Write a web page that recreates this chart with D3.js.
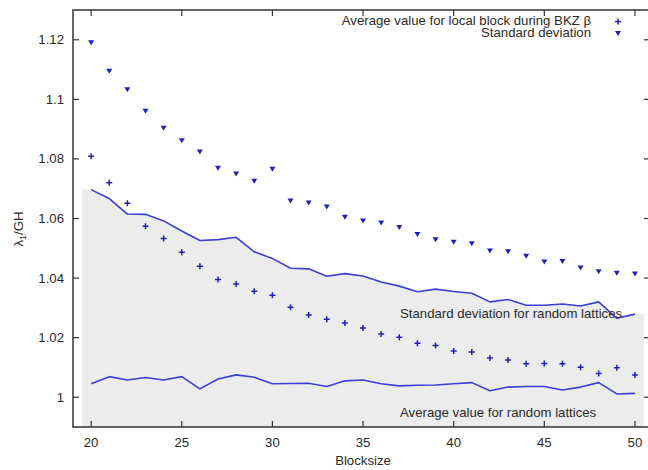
<!DOCTYPE html>
<html>
<head>
<meta charset="utf-8">
<script src="https://cdn.jsdelivr.net/npm/d3@7"></script>
<style>
body { margin: 0; background: #fff; }
text { font-family: "Liberation Sans", Arial, sans-serif; fill: #2a2a2a; }
</style>
</head>
<body>
<script>
// blocksizes 20..50
var blocksize = d3.range(20, 51);

// average value for local block during BKZ (plus markers)
var bkzAvg = [1.0809, 1.0720, 1.0651, 1.0574, 1.0533, 1.0487, 1.0440, 1.0395, 1.0380, 1.0356,
              1.0342, 1.0302, 1.0276, 1.0262, 1.0249, 1.0232, 1.0212, 1.0201, 1.0181, 1.0174,
              1.0155, 1.0152, 1.0132, 1.0125, 1.0112, 1.0113, 1.0112, 1.0101, 1.0080, 1.0099,
              1.0075];

// standard deviation (triangle markers)
var bkzStd = [1.1190, 1.1094, 1.1032, 1.0960, 1.0903, 1.0861, 1.0823, 1.0769, 1.0749, 1.0725,
              1.0765, 1.0659, 1.0652, 1.0639, 1.0604, 1.0592, 1.0585, 1.0570, 1.0546, 1.0529,
              1.0520, 1.0515, 1.0491, 1.0488, 1.0473, 1.0454, 1.0456, 1.0434, 1.0421, 1.0416,
              1.0414];

// standard deviation for random lattices (upper line)
var randStd = [1.0697, 1.0667, 1.0615, 1.0614, 1.0592, 1.0558, 1.0526, 1.0529, 1.0537, 1.0488,
               1.0466, 1.0433, 1.0431, 1.0406, 1.0415, 1.0407, 1.0387, 1.0373, 1.0354, 1.0363,
               1.0355, 1.0349, 1.0320, 1.0328, 1.0309, 1.0309, 1.0313, 1.0306, 1.0320, 1.0265,
               1.0279];

// average value for random lattices (lower line)
var randAvg = [1.0045, 1.0069, 1.0058, 1.0066, 1.0058, 1.0069, 1.0028, 1.0061, 1.0075, 1.0067,
               1.0045, 1.0046, 1.0047, 1.0036, 1.0055, 1.0058, 1.0045, 1.0038, 1.0040, 1.0041,
               1.0045, 1.0049, 1.0022, 1.0034, 1.0036, 1.0036, 1.0024, 1.0034, 1.0049, 1.0011,
               1.0013];

var xTicks = [20, 25, 30, 35, 40, 45, 50];
var yTicks = [1, 1.02, 1.04, 1.06, 1.08, 1.1, 1.12];

var width = 648,
    height = 470;
var pLeft = 73, pRight = 650, pTop = 10, pBottom = 427;
var fs = 13.2;

var blue = "#3d3dd8",
    markBlue = "#2020b8",
    axisCol = "#333";

var svg = d3.select("body")
            .append("svg")
            .attr("width", width)
            .attr("height", height);

var x = d3.scaleLinear().domain([19, 50.83]).range([pLeft, pRight]);
var y = d3.scaleLinear().domain([0.99, 1.13]).range([pBottom, pTop]);

// grey area under the random-lattice std line, padded half a step each side
var area = [[19.5, randStd[0]]]
    .concat(blocksize.map((b, i) => [b, randStd[i]]))
    .concat([[50.5, randStd[randStd.length - 1]]]);

svg.append("path")
   .datum(area)
   .attr("fill", "#ececec")
   .attr("d", d3.area()
                .x(d => x(d[0]))
                .y0(y(0.99))
                .y1(d => y(d[1])));

// frame
svg.append("rect")
   .attr("x", pLeft).attr("y", pTop)
   .attr("width", pRight - pLeft).attr("height", pBottom - pTop)
   .attr("fill", "none")
   .attr("stroke", axisCol)
   .attr("stroke-width", 1.5);

// ticks, all pointing inward, mirrored on top/right
var g = svg.append("g").attr("stroke", axisCol).attr("stroke-width", 1.2);
xTicks.forEach(t => {
    g.append("line").attr("x1", x(t)).attr("x2", x(t)).attr("y1", pBottom).attr("y2", pBottom - 6);
    g.append("line").attr("x1", x(t)).attr("x2", x(t)).attr("y1", pTop).attr("y2", pTop + 6);
});
yTicks.forEach(t => {
    g.append("line").attr("x1", pLeft).attr("x2", pLeft + 6).attr("y1", y(t)).attr("y2", y(t));
    g.append("line").attr("x1", pRight).attr("x2", pRight - 6).attr("y1", y(t)).attr("y2", y(t));
});

svg.selectAll(".xt")
   .data(xTicks)
   .enter()
   .append("text")
      .attr("x", d => x(d))
      .attr("y", 447)
      .attr("text-anchor", "middle")
      .attr("font-size", fs)
      .text(d => d);

svg.selectAll(".yt")
   .data(yTicks)
   .enter()
   .append("text")
      .attr("x", 64)
      .attr("y", d => y(d) + 4.5)
      .attr("text-anchor", "end")
      .attr("font-size", fs)
      .text(d => +d.toFixed(2));

svg.append("text")
   .attr("x", 363)
   .attr("y", 465)
   .attr("text-anchor", "middle")
   .attr("font-size", fs)
   .text("Blocksize");

var yl = svg.append("text")
   .attr("transform", "translate(23,229) rotate(-90)")
   .attr("text-anchor", "middle")
   .attr("font-size", fs);
yl.append("tspan").text("λ");
yl.append("tspan").attr("font-size", 9).attr("dy", 3).text("1");
yl.append("tspan").attr("dy", -3).text("/GH");

// lines
var line = d3.line()
             .x((d, i) => x(blocksize[i]))
             .y(d => y(d));

[randStd, randAvg].forEach(s => {
    svg.append("path")
       .datum(s)
       .attr("fill", "none")
       .attr("stroke", blue)
       .attr("stroke-width", 1.6)
       .attr("stroke-linejoin", "round")
       .attr("d", line);
});

// markers
function drawPlus(sel) {
    sel.append("path")
       .attr("d", "M-3,0H3M0,-3V3")
       .attr("stroke", markBlue)
       .attr("stroke-width", 1.5)
       .attr("fill", "none");
}
function drawTri(sel) {
    sel.append("path")
       .attr("d", "M-3,-2.5L3,-2.5L0,2.5Z")
       .attr("fill", markBlue);
}

svg.selectAll(".pl")
   .data(bkzAvg)
   .enter()
   .append("g")
      .attr("transform", (d, i) => "translate(" + x(blocksize[i]) + "," + y(d) + ")")
      .call(drawPlus);

svg.selectAll(".tr")
   .data(bkzStd)
   .enter()
   .append("g")
      .attr("transform", (d, i) => "translate(" + x(blocksize[i]) + "," + y(d) + ")")
      .call(drawTri);

// legend
svg.append("text")
   .attr("x", 591).attr("y", 24.5)
   .attr("text-anchor", "end")
   .attr("font-size", fs)
   .text("Average value for local block during BKZ β");
svg.append("text")
   .attr("x", 591).attr("y", 37)
   .attr("text-anchor", "end")
   .attr("font-size", fs)
   .text("Standard deviation");
svg.append("g").attr("transform", "translate(618,21.5)").call(drawPlus);
svg.append("g").attr("transform", "translate(618,33.5)").call(drawTri);

// in-plot labels
svg.append("text")
   .attr("x", 400).attr("y", 318)
   .attr("font-size", fs)
   .text("Standard deviation for random lattices");
svg.append("text")
   .attr("x", 400).attr("y", 417)
   .attr("font-size", fs)
   .text("Average value for random lattices");
</script>
</body>
</html>
